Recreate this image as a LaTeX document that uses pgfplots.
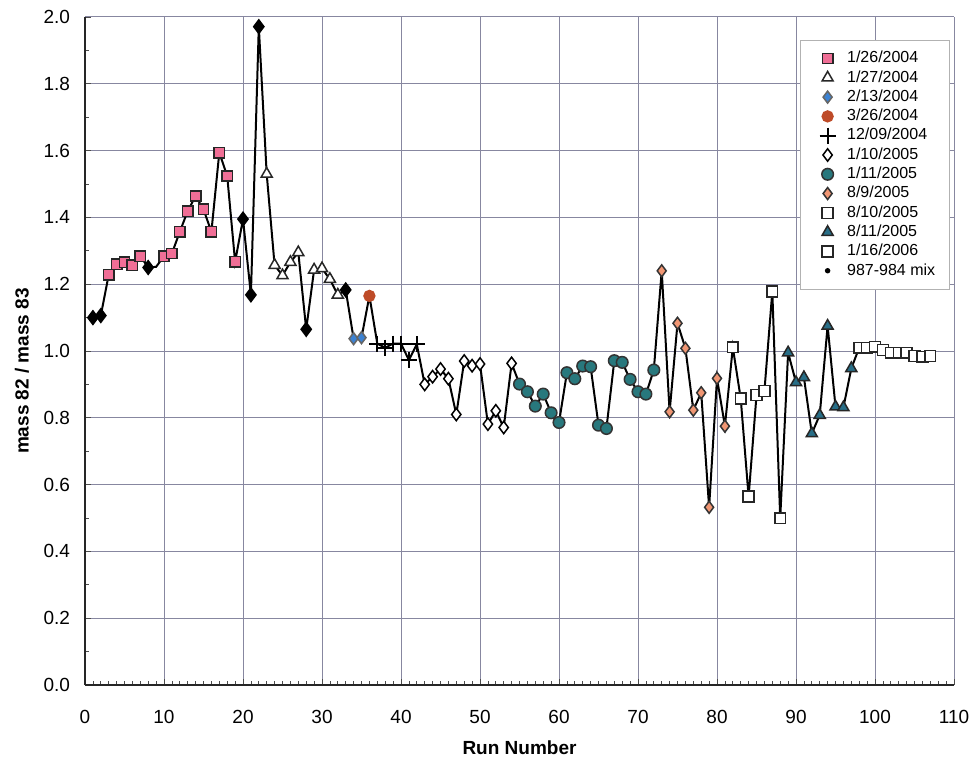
\documentclass[border=0pt]{standalone}
\usepackage{pgfplots}
\pgfplotsset{compat=1.18}
\usepackage{fontspec}
\setmainfont{Liberation Sans}
\definecolor{gridc}{RGB}{135,135,160}
\definecolor{pinkc}{RGB}{240,110,150}
\definecolor{bluec}{RGB}{60,130,210}
\definecolor{redc}{RGB}{190,75,40}
\definecolor{tealc}{RGB}{40,120,125}
\definecolor{orangec}{RGB}{240,150,115}
\definecolor{tealt}{RGB}{40,110,135}
\begin{document}
\begin{tikzpicture}
\begin{axis}[
  width=434.5pt, height=334pt, scale only axis,
  xmin=0, xmax=110, ymin=0, ymax=2,
  xtick={0,10,20,30,40,50,60,70,80,90,100,110},
  ytick={0,0.2,0.4,0.6,0.8,1.0,1.2,1.4,1.6,1.8,2.0},
  minor x tick num=9, minor y tick num=1,
  tick align=inside,
  major tick length=3pt, minor tick length=2pt,
  axis x line*=bottom, axis y line*=left,
  xtick pos=lower, ytick pos=left,
  axis line style={black!85, line width=0.7pt},
  tick style={black!70, line width=0.4pt},
  grid=major,
  major grid style={gridc, line width=0.5pt},
  /pgf/number format/assume math mode=true,
  tick label style={font=\fontsize{9.5}{11}\selectfont},
  xticklabel style={yshift=-9pt},
  yticklabel style={xshift=-4pt, /pgf/number format/.cd, fixed, fixed zerofill, precision=1},
  xlabel={\bfseries Run Number},
  ylabel={\bfseries mass 82 / mass 83},
  every axis x label/.style={at={(rel axis cs:0.5,0)}, anchor=center, yshift=-31.5pt, font=\fontsize{9.5}{11}\selectfont},
  every axis y label/.style={at={(rel axis cs:0,0.47)}, anchor=center, rotate=90, yshift=31.5pt, font=\fontsize{9.5}{11}\selectfont},
  legend style={at={(rel axis cs:0.995,0.966)}, anchor=north east, draw=gray!60, line width=0.5pt,
    font=\fontsize{8}{9.5}\selectfont, row sep=0.35pt, inner xsep=5pt, inner ysep=4.5pt,
    nodes={inner ysep=1pt}},
  legend cell align=left,
  every axis plot/.append style={mark options={line width=0.75pt},
    legend image code/.code={\path (0pt,0pt) (16pt,0pt);
      \draw[mark repeat=2,mark phase=2,#1] plot coordinates {(4pt,0pt)(8.5pt,0pt)(13pt,0pt)};}},
]
\coordinate (sw) at (rel axis cs:0,0);
\coordinate (ne) at (rel axis cs:1,1);
% connecting line through all runs
\addplot[black, line width=1pt, no marks, forget plot] coordinates {
(1,1.100)(2,1.106)(3,1.228)(4,1.260)(5,1.266)(6,1.257)(7,1.284)(8,1.250)(9,1.252)(10,1.284)
(11,1.292)(12,1.357)(13,1.419)(14,1.464)(15,1.424)(16,1.357)(17,1.594)(18,1.524)(19,1.267)(20,1.395)
(21,1.168)(22,1.971)(23,1.530)(24,1.257)(25,1.226)(26,1.266)(27,1.295)(28,1.065)(29,1.243)(30,1.247)
(31,1.215)(32,1.168)(33,1.183)(34,1.037)(35,1.040)(36,1.165)(37,1.022)(38,1.010)(39,1.022)(40,1.022)
(41,0.973)(42,1.020)(43,0.900)(44,0.923)(45,0.946)(46,0.917)(47,0.810)(48,0.970)(49,0.956)(50,0.961)
(51,0.781)(52,0.821)(53,0.771)(54,0.963)(55,0.901)(56,0.878)(57,0.835)(58,0.871)(59,0.815)(60,0.786)
(61,0.935)(62,0.917)(63,0.955)(64,0.953)(65,0.778)(66,0.768)(67,0.971)(68,0.966)(69,0.915)(70,0.878)
(71,0.871)(72,0.943)(73,1.240)(74,0.818)(75,1.083)(76,1.008)(77,0.823)(78,0.875)(79,0.532)(80,0.918)
(81,0.775)(82,1.011)(83,0.858)(84,0.564)(85,0.868)(86,0.880)(87,1.178)(88,0.499)(89,0.995)(90,0.906)
(91,0.921)(92,0.753)(93,0.808)(94,1.075)(95,0.833)(96,0.831)(97,0.948)(98,1.010)(99,1.010)(100,1.013)
(101,1.003)(102,0.995)(103,0.995)(104,0.995)(105,0.985)(106,0.983)(107,0.985)};
% 1/26/2004
\addplot[only marks, mark=square*, mark size=2.6pt, draw=black!85, fill=pinkc] coordinates {
(3,1.228)(4,1.260)(5,1.266)(6,1.257)(7,1.284)(10,1.284)(11,1.292)(12,1.357)(13,1.419)(14,1.464)
(15,1.424)(16,1.357)(17,1.594)(18,1.524)(19,1.267)};
\addlegendentry{1/26/2004}
% 1/27/2004
\addplot[only marks, mark=triangle*, mark size=3.2pt, draw=black!85, fill=white] coordinates {
(23,1.530)(24,1.257)(25,1.226)(26,1.266)(27,1.295)(29,1.243)(30,1.247)(31,1.215)(32,1.168)};
\addlegendentry{1/27/2004}
% 2/13/2004
\addplot[only marks, mark=diamond*, mark size=3pt, draw=black!60, fill=bluec] coordinates {
(34,1.037)(35,1.040)};
\addlegendentry{2/13/2004}
% 3/26/2004
\addplot[only marks, mark=*, mark size=2.7pt, draw=redc, fill=redc] coordinates {
(36,1.165)};
\addlegendentry{3/26/2004}
% 12/09/2004
\addplot[only marks, mark=+, mark size=4pt, draw=black, mark options={line width=0.9pt}] coordinates {
(37,1.022)(38,1.010)(39,1.022)(40,1.022)(41,0.973)(42,1.020)};
\addlegendentry{12/09/2004}
% 1/10/2005
\addplot[only marks, mark=diamond*, mark size=3.1pt, draw=black, fill=white] coordinates {
(43,0.900)(44,0.923)(45,0.946)(46,0.917)(47,0.810)(48,0.970)(49,0.956)(50,0.961)(51,0.781)(52,0.821)
(53,0.771)(54,0.963)};
\addlegendentry{1/10/2005}
% 1/11/2005
\addplot[only marks, mark=*, mark size=2.9pt, draw=black!80, fill=tealc] coordinates {
(55,0.901)(56,0.878)(57,0.835)(58,0.871)(59,0.815)(60,0.786)(61,0.935)(62,0.917)(63,0.955)(64,0.953)
(65,0.778)(66,0.768)(67,0.971)(68,0.966)(69,0.915)(70,0.878)(71,0.871)(72,0.943)};
\addlegendentry{1/11/2005}
% 8/9/2005
\addplot[only marks, mark=diamond*, mark size=3pt, draw=black!80, fill=orangec] coordinates {
(73,1.240)(74,0.818)(75,1.083)(76,1.008)(77,0.823)(78,0.875)(79,0.532)(80,0.918)(81,0.775)};
\addlegendentry{8/9/2005}
% 8/10/2005
\addplot[only marks, mark=square*, mark size=2.7pt, draw=black!85, fill=white] coordinates {
(82,1.011)(83,0.858)(84,0.564)(85,0.868)(86,0.880)(87,1.178)(88,0.499)};
\addlegendentry{8/10/2005}
% 8/11/2005
\addplot[only marks, mark=triangle*, mark size=3.2pt, draw=black!85, fill=tealt] coordinates {
(89,0.995)(90,0.906)(91,0.921)(92,0.753)(93,0.808)(94,1.075)(95,0.833)(96,0.831)(97,0.948)};
\addlegendentry{8/11/2005}
% 1/16/2006
\addplot[only marks, mark=square*, mark size=2.7pt, draw=black!85, fill=white] coordinates {
(98,1.010)(99,1.010)(100,1.013)(101,1.003)(102,0.995)(103,0.995)(104,0.995)(105,0.985)(106,0.983)(107,0.985)};
\addlegendentry{1/16/2006}
% 987-984 mix
\addplot[only marks, mark=diamond*, mark size=3.4pt, draw=black, fill=black,
  legend image code/.code={\path (0pt,0pt) (16pt,0pt); \fill[black] (8.5pt,0pt) circle (1.1pt);}] coordinates {
(1,1.100)(2,1.106)(8,1.250)(20,1.395)(21,1.168)(22,1.971)(28,1.065)(33,1.183)};
\addlegendentry{987-984 mix}
\end{axis}
\path ([shift={(-42.5pt,-40.5pt)}]sw) rectangle ([shift={(11.5pt,8.5pt)}]ne);
\end{tikzpicture}
\end{document}
